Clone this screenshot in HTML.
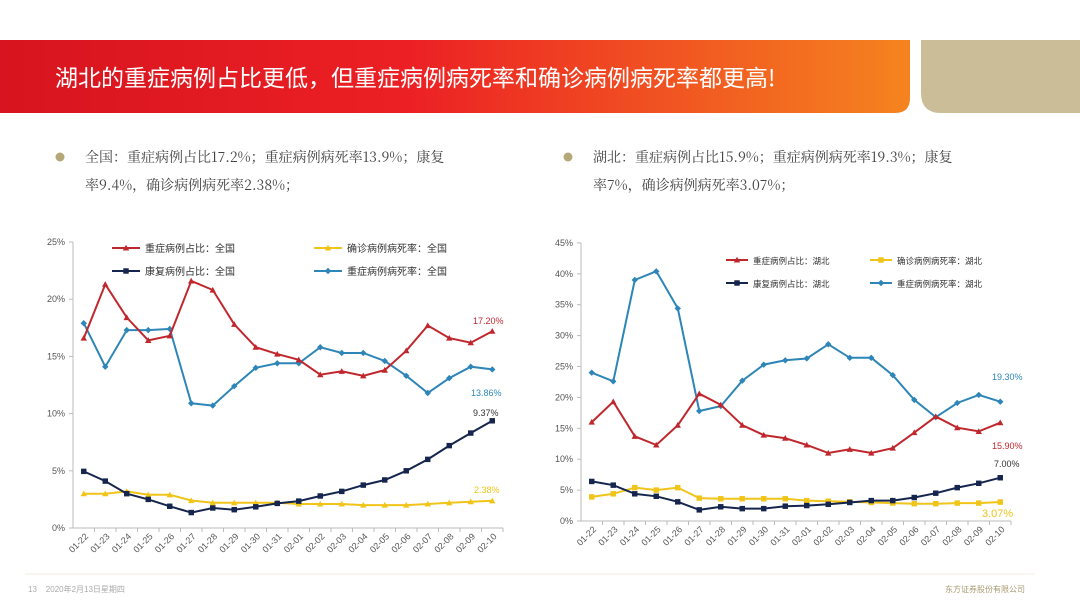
<!DOCTYPE html>
<html><head><meta charset="utf-8"><style>
body{margin:0;width:1080px;height:608px;background:#fff;overflow:hidden;font-family:"Liberation Sans","Noto Sans CJK SC",sans-serif;}
</style></head><body>
<svg id="s" width="1080" height="608" xmlns="http://www.w3.org/2000/svg" style="position:absolute;left:0;top:0">
<defs><linearGradient id="g" x1="0" x2="1"><stop offset="0" stop-color="#d7141f"/><stop offset="0.45" stop-color="#ec2024"/><stop offset="1" stop-color="#f5841f"/></linearGradient></defs>
<path d="M0 40H910V98Q910 113 895 113H0Z" fill="url(#g)"/>
<path d="M921 40H1080V113H941Q921 113 921 93Z" fill="#cbbd98"/>
<text x="55" y="86" fill="#fff" font-size="23" font-family="'Noto Sans CJK SC',sans-serif">湖北的重症病例占比更低，但重症病例病死率和确诊病例病死率都更高!</text>
<circle cx="60" cy="157" r="4.5" fill="#b5a878"/>
<circle cx="568" cy="157" r="4.5" fill="#b5a878"/>
<g font-size="14" fill="#444" font-family="'Noto Serif CJK SC','Liberation Serif',serif">
<text x="85" y="162">全国：重症病例占比17.2%；重症病例病死率13.9%；康复</text>
<text x="85" y="190">率9.4%，确诊病例病死率2.38%；</text>
<text x="593" y="162">湖北：重症病例占比15.9%；重症病例病死率19.3%；康复</text>
<text x="593" y="190">率7%，确诊病例病死率3.07%；</text>
</g>
<line x1="25" y1="574" x2="1035" y2="574" stroke="#f3eedf" stroke-width="1"/>
<text x="28" y="592" font-size="8" fill="#aaa">13 &#160;&#160; 2020年2月13日星期四</text>
<text x="945" y="592" font-size="8" fill="#a89a70">东方证券股份有限公司</text>
<g id="c"></g>
</svg>
<script>
var NS="http://www.w3.org/2000/svg",c=document.getElementById('c');
function el(t,a,txt){var e=document.createElementNS(NS,t);for(var k in a)e.setAttribute(k,a[k]);if(txt!=null)e.textContent=txt;c.appendChild(e);return e;}
var dates=["01-22","01-23","01-24","01-25","01-26","01-27","01-28","01-29","01-30","01-31","02-01","02-02","02-03","02-04","02-05","02-06","02-07","02-08","02-09","02-10"];
var RED="#c0272d",BLUE="#2e86b8",NAVY="#15254d",YEL="#f0c419";
function marker(type,x,y,col,s){
 if(type=='tri')el('path',{d:'M'+x+' '+(y-s)+'L'+(x+s)+' '+(y+s*0.8)+'L'+(x-s)+' '+(y+s*0.8)+'Z',fill:col});
 else if(type=='sq')el('rect',{x:x-s*0.85,y:y-s*0.85,width:s*1.7,height:s*1.7,fill:col});
 else el('path',{d:'M'+x+' '+(y-s)+'L'+(x+s)+' '+y+'L'+x+' '+(y+s)+'L'+(x-s)+' '+y+'Z',fill:col});
}
function chart(o){
 var ax=o.ax,y0=o.y0,ppu=o.ppu,w=21.5;
 el('line',{x1:ax,y1:y0,x2:ax,y2:y0-o.max*ppu,stroke:'#bbb'});
 el('line',{x1:ax,y1:y0,x2:ax+20*w,y2:y0,stroke:'#bbb'});
 for(var v=0;v<=o.max;v+=5){var y=y0-v*ppu;el('line',{x1:ax-4,y1:y,x2:ax,y2:y,stroke:'#bbb'});
  el('text',{x:ax-8,y:y+3,'font-size':9,fill:'#555','text-anchor':'end'},v+'%');}
 for(var i=0;i<20;i++){var x=ax+w*(i+0.5);el('line',{x1:ax+w*(i+1),y1:y0,x2:ax+w*(i+1),y2:y0+4,stroke:'#bbb'});
  el('text',{x:x+5,y:y0+9,'font-size':9,fill:'#555','text-anchor':'end',transform:'rotate(-45 '+(x+5)+' '+(y0+9)+')'},dates[i]);}
 o.series.forEach(function(s){var p=s.d.map(function(v,i){return (ax+w*(i+0.5)).toFixed(1)+','+(y0-v*ppu).toFixed(1)});
  el('polyline',{points:p.join(' '),fill:'none',stroke:s.c,'stroke-width':2});
  s.d.forEach(function(v,i){marker(s.m,ax+w*(i+0.5),y0-v*ppu,s.c,3.2);});});
 o.leg.forEach(function(l){el('line',{x1:l[0],y1:l[1],x2:l[0]+l[5],y2:l[1],stroke:l[3],'stroke-width':2});marker(l[4],l[0]+l[5]/2,l[1],l[3],3.2);
  el('text',{x:l[0]+l[5]+5,y:l[1]+4,'font-size':o.lf,fill:'#333'},l[2]);});
 o.labels.forEach(function(l){el('text',{x:l[0],y:l[1],'font-size':l[4]||9,fill:l[3]},l[2]);});
}
chart({ax:73,y0:528,ppu:11.44,max:25,lf:10,series:[
 {c:YEL,m:'tri',d:[3.0,3.0,3.2,2.9,2.9,2.4,2.2,2.2,2.2,2.2,2.1,2.1,2.1,2.0,2.0,2.0,2.1,2.2,2.3,2.38]},
 {c:NAVY,m:'sq',d:[4.95,4.1,3.0,2.5,1.9,1.35,1.75,1.6,1.85,2.15,2.35,2.8,3.2,3.75,4.2,5.0,6.0,7.2,8.3,9.37]},
 {c:BLUE,m:'dia',d:[17.9,14.1,17.3,17.3,17.4,10.9,10.7,12.4,14.0,14.4,14.4,15.8,15.3,15.3,14.6,13.3,11.8,13.1,14.1,13.86]},
 {c:RED,m:'tri',d:[16.6,21.3,18.4,16.4,16.8,21.6,20.8,17.8,15.8,15.2,14.7,13.4,13.7,13.3,13.8,15.5,17.7,16.6,16.2,17.2]}],
 leg:[[112,248,'重症病例占比：全国',RED,'tri',28],[314,248,'确诊病例病死率：全国',YEL,'tri',28],[112,271,'康复病例占比：全国',NAVY,'sq',28],[314,271,'重症病例病死率：全国',BLUE,'dia',28]],
 labels:[[473,324,'17.20%',RED],[471,396,'13.86%',BLUE],[473,416,'9.37%','#333'],[474,493,'2.38%',YEL]]});
chart({ax:581,y0:521,ppu:6.18,max:45,lf:8.5,series:[
 {c:YEL,m:'sq',d:[3.9,4.4,5.4,5.0,5.4,3.7,3.6,3.6,3.6,3.6,3.3,3.2,3.1,3.0,2.9,2.8,2.8,2.9,2.9,3.07]},
 {c:NAVY,m:'sq',d:[6.4,5.8,4.4,4.0,3.1,1.8,2.3,2.0,2.0,2.4,2.5,2.7,3.0,3.3,3.3,3.8,4.5,5.4,6.1,7.0]},
 {c:BLUE,m:'dia',d:[24.0,22.6,39.0,40.4,34.4,17.8,18.6,22.7,25.3,26.0,26.3,28.6,26.4,26.4,23.6,19.6,16.8,19.1,20.4,19.3]},
 {c:RED,m:'tri',d:[16.0,19.3,13.7,12.3,15.5,20.6,18.8,15.5,13.9,13.4,12.3,11.0,11.6,11.0,11.8,14.3,16.9,15.1,14.5,15.9]}],
 leg:[[726,260,'重症病例占比：湖北',RED,'tri',22],[870,260,'确诊病例病死率：湖北',YEL,'sq',22],[726,283,'康复病例占比：湖北',NAVY,'sq',22],[870,283,'重症病例病死率：湖北',BLUE,'dia',22]],
 labels:[[992,380,'19.30%',BLUE],[992,449,'15.90%',RED],[994,467,'7.00%','#333'],[982,517,'3.07%',YEL,11]]});
</script>
</body></html>
